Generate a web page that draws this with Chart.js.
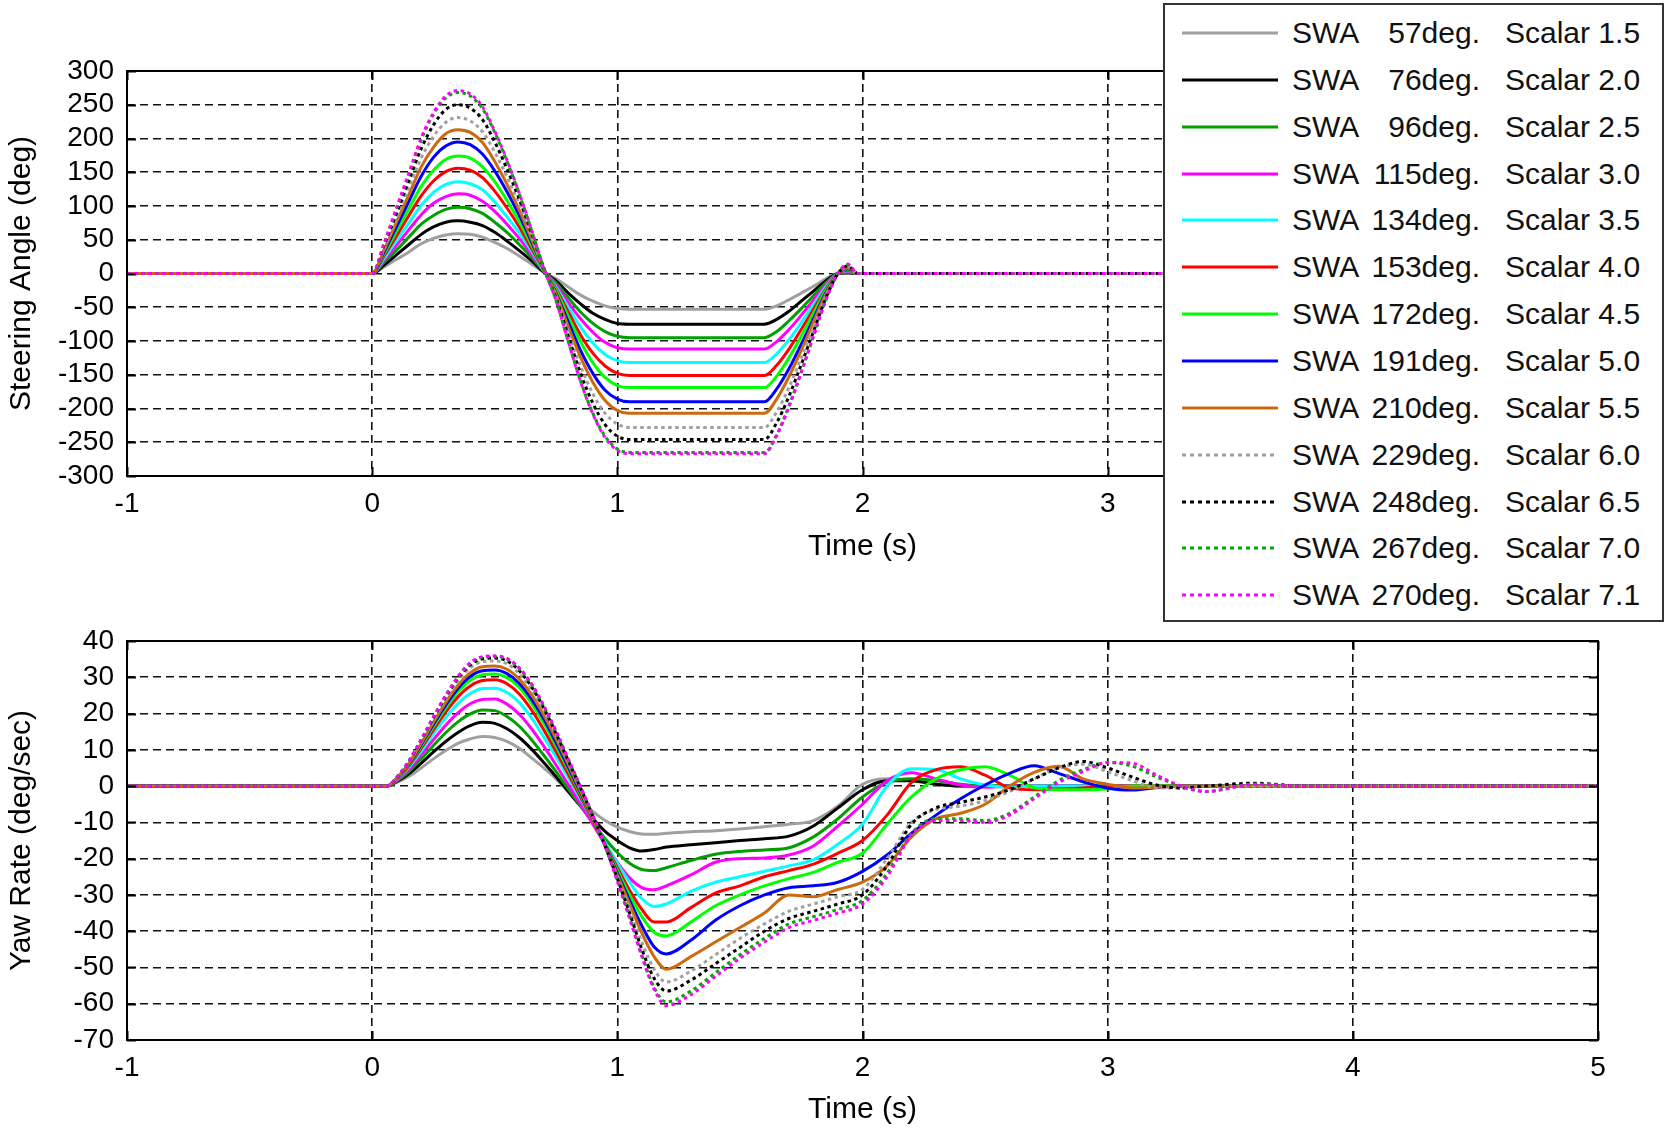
<!DOCTYPE html>
<html>
<head>
<meta charset="utf-8">
<title>Sine with dwell - steering angle and yaw rate</title>
<script src="https://cdn.jsdelivr.net/npm/chart.js@4.4.1/dist/chart.umd.min.js"></script>
<style>
  html, body { margin: 0; padding: 0; background: #fff; }
  body { width: 1666px; height: 1128px; position: relative; overflow: hidden; font-family: 'Liberation Sans', Arial, sans-serif; }
  canvas { position: absolute; left: 0; }
  #steerCanvas { top: 0; }
  #yawCanvas { top: 560px; }
  #legend { position: absolute; left: 1163px; top: 3px; width: 501px; height: 619px; box-sizing: border-box;
            border: 2px solid #333; background: #fff; z-index: 5; }
  .row { position: absolute; left: 0; width: 497px; height: 34px; font-size: 30px; line-height: 34px; color: #111; }
  .row svg { position: absolute; left: 17px; top: 14px; }
  .row .swa { position: absolute; left: 127px; }
  .row .deg { position: absolute; left: 190px; width: 125px; text-align: right; }
  .row .sc { position: absolute; left: 340px; }
</style>
</head>
<body>
<canvas id="steerCanvas" width="1666" height="565"></canvas>
<canvas id="yawCanvas" width="1666" height="568"></canvas>
<div id="legend"></div>
<script>
// legend text
var swaDeg = [57, 76, 96, 115, 134, 153, 172, 191, 210, 229, 248, 267, 270];
var scalarVals = ['1.5', '2.0', '2.5', '3.0', '3.5', '4.0', '4.5', '5.0', '5.5', '6.0', '6.5', '7.0', '7.1'];

// tick labels
var timeTicks = [-1, 0, 1, 2, 3, 4, 5];
var steerTicks = [-300, -250, -200, -150, -100, -50, 0, 50, 100, 150, 200, 250, 300];
var yawTicks = [-70, -60, -50, -40, -30, -20, -10, 0, 10, 20, 30, 40];

// steering wheel angle (deg) vs time (s)
var steerTime = [-1, 0, 0.05, 0.1, 0.15, 0.2, 0.25, 0.3, 0.35, 0.4, 0.45, 0.5, 0.55, 0.6, 0.65, 0.7,
  0.75, 0.8, 0.85, 0.9, 0.95, 1.0, 1.05, 1.6, 1.65, 1.7, 1.75, 1.8, 1.85, 1.9, 1.94, 1.98, 5];
var swa57  = [0, 0, 10, 21, 32, 44, 52, 57, 59, 58, 54, 46, 37, 26, 14, 2, -8, -20, -32, -41, -48, -52, -53, -53, -48, -39, -29, -19, -8, 0, 0, 0, 0];
var swa76  = [0, 0, 13, 28, 43, 58, 69, 76, 78, 76, 71, 61, 48, 34, 19, 2, -11, -29, -45, -59, -68, -74, -75, -75, -68, -56, -41, -26, -11, 0, 1, 0, 0];
var swa96  = [0, 0, 17, 35, 54, 73, 86, 95, 98, 96, 89, 76, 61, 43, 24, 3, -14, -36, -57, -74, -86, -93, -95, -95, -86, -70, -52, -33, -14, 0, 2, 0, 0];
var swa115 = [0, 0, 20, 42, 65, 87, 104, 114, 118, 116, 107, 92, 73, 52, 28, 4, -17, -43, -67, -87, -102, -110, -112, -112, -101, -83, -62, -39, -17, 0, 3, 0, 0];
var swa134 = [0, 0, 23, 49, 75, 101, 120, 132, 136, 133, 124, 106, 84, 60, 33, 4, -20, -50, -79, -103, -120, -129, -132, -132, -119, -98, -73, -46, -20, 0, 4, 0, 0];
var swa153 = [0, 0, 27, 56, 86, 115, 137, 151, 156, 153, 142, 122, 97, 69, 37, 5, -23, -57, -91, -118, -137, -148, -151, -151, -136, -112, -83, -53, -23, 0, 5, 0, 0];
var swa172 = [0, 0, 30, 63, 96, 129, 153, 169, 174, 171, 158, 136, 108, 77, 42, 5, -25, -64, -101, -132, -154, -166, -169, -169, -152, -125, -93, -59, -25, 0, 6, 0, 0];
var swa191 = [0, 0, 33, 70, 107, 144, 172, 189, 195, 191, 177, 152, 121, 86, 47, 6, -29, -72, -114, -148, -173, -186, -190, -190, -171, -141, -105, -67, -29, 0, 7, 0, 0];
var swa210 = [0, 0, 36, 77, 117, 158, 187, 207, 213, 209, 194, 166, 132, 94, 51, 6, -31, -79, -124, -161, -188, -203, -207, -207, -186, -153, -114, -72, -31, 0, 8, 0, 0];
var swa229 = [0, 0, 39, 83, 127, 171, 203, 224, 231, 226, 210, 180, 143, 102, 55, 7, -34, -87, -137, -178, -207, -223, -228, -228, -205, -169, -125, -80, -34, 0, 10, 0, 0];
var swa248 = [0, 0, 43, 90, 138, 185, 220, 243, 250, 245, 228, 195, 155, 110, 60, 8, -37, -93, -148, -192, -224, -241, -246, -246, -221, -182, -135, -86, -37, 0, 11, 0, 0];
var swa267 = [0, 0, 46, 96, 147, 198, 236, 260, 268, 263, 244, 209, 166, 118, 64, 8, -40, -101, -159, -207, -241, -260, -265, -265, -239, -196, -146, -93, -40, 0, 13, 0, 0];
var swa270 = [0, 0, 46, 98, 149, 201, 238, 263, 271, 266, 247, 211, 168, 119, 65, 8, -40, -101, -160, -208, -243, -262, -267, -267, -240, -198, -147, -93, -40, 0, 14, 0, 0];

// yaw rate (deg/sec) vs time (s)
var yawTime = [-1, 0, 0.06, 0.1, 0.15, 0.2, 0.25, 0.3, 0.35, 0.4, 0.45, 0.5, 0.55, 0.6, 0.65, 0.7,
  0.75, 0.8, 0.85, 0.9, 0.95, 1.0, 1.05, 1.1, 1.15, 1.2, 1.3, 1.4, 1.5, 1.6, 1.7, 1.8, 1.9, 2.0,
  2.1, 2.2, 2.3, 2.4, 2.5, 2.6, 2.7, 2.8, 2.9, 3.0, 3.1, 3.2, 3.3, 3.4, 3.6, 3.8, 4.0, 5];
var yaw57  = [0, 0, 0, 1, 2.7, 5, 7.5, 9.8, 11.8, 13, 13.7, 13.4, 12.3, 10.4, 7.8, 5, 2, -1.5, -4.5, -7, -9.5, -11.3, -12.5, -13.2, -13.3, -13,
  -12.6, -12.3, -11.8, -11.2, -10.5, -9.5, -5.5, 0.5, 2, 1.5, 0.5, 0, 0, 0, 0, 0, 0, 0, 0, 0, 0, 0, 0, 0, 0, 0];
var yaw76  = [0, 0, 0, 1.2, 3.4, 6.3, 9.4, 12.3, 14.8, 16.7, 17.6, 17.3, 15.8, 13.4, 10.2, 6.5, 2.6, -1.5, -5.5, -9, -12.5, -15, -17, -17.9, -17.5, -16.8,
  -16.2, -15.6, -15, -14.5, -13.8, -11, -6, -1, 1.5, 1.5, 0.5, 0, 0, 0, 0, 0, 0, 0, 0, 0, 0, 0, 0, 0, 0, 0];
var yaw96  = [0, 0, 0, 1.4, 4, 7.5, 11.2, 14.7, 17.7, 19.9, 21, 20.8, 19.2, 16.5, 12.8, 8.5, 4, -0.8, -5.5, -10, -14.5, -18.3, -21.3, -23, -23.3, -22.5,
  -20.5, -18.8, -18, -17.6, -17, -14, -9, -3, 1, 2, 1.5, 0.5, 0, 0, 0, 0, 0, 0, 0, 0, 0, 0, 0, 0, 0, 0];
var yaw115 = [0, 0, 0, 1.6, 4.6, 8.6, 12.8, 16.8, 20.2, 22.7, 23.9, 24, 22.6, 19.8, 15.8, 11, 5.8, 0.4, -5, -10.5, -16, -21, -25.3, -28, -28.6, -27.5,
  -24.5, -21, -20, -19.8, -19, -16.5, -11, -5, 1.5, 3.7, 2, 0.3, -0.3, 0, 0, 0, 0, 0, 0, 0, 0, 0, 0, 0, 0, 0];
var yaw134 = [0, 0, 0, 1.8, 5.2, 9.6, 14.4, 18.9, 22.7, 25.5, 26.9, 27, 25.8, 23, 18.8, 13.5, 8, 2.3, -3.6, -9.5, -15.5, -21.3, -26.5, -31, -33.2, -32.5,
  -29, -26.5, -25, -23.5, -22, -20.3, -16, -10.5, 0, 4.8, 4.6, 2, 0.3, -0.3, 0, 0, 0, 0, 0, 0, 0, 0, 0, 0, 0, 0];
var yaw153 = [0, 0, 0, 1.9, 5.6, 10.4, 15.5, 20.4, 24.6, 27.6, 29.1, 29.3, 28.2, 25.4, 21, 15.5, 9.5, 3.3, -3, -9.5, -16, -22.5, -28.7, -34, -37.5, -37.5,
  -33.5, -29.5, -27.5, -25, -23.3, -21.5, -18.5, -15, -8, 1, 4.5, 5.3, 3, -0.5, -1, -0.8, -0.5, 0, 0, 0, 0, 0, 0, 0, 0, 0];
var yaw172 = [0, 0, 0, 2, 5.9, 11, 16.4, 21.5, 26, 29.2, 30.7, 30.9, 29.9, 27.2, 22.8, 17.3, 11, 4.5, -2.3, -9.2, -16.2, -23.2, -30, -36, -40.3, -41.3,
  -37.5, -33, -30, -27.5, -25.5, -23.8, -21, -18.5, -10.5, -3, 2, 4.5, 5.3, 3, -0.5, -1, -1, -0.8, 0, 0, 0, 0, 0, 0, 0, 0];
var yaw191 = [0, 0, 0, 2.1, 6.1, 11.4, 17, 22.3, 26.9, 30.2, 31.8, 32, 31, 28.3, 24, 18.5, 12, 5.2, -1.8, -9, -16.3, -24, -31.5, -38.5, -44.3, -46.3,
  -42.5, -37, -33, -30, -28, -27.5, -26.5, -23.5, -19, -13, -8, -3.5, 0.3, 3.5, 5.6, 3.5, 1.2, -0.6, -1.1, -0.4, 0, 0, 0, 0, 0, 0];
var yaw210 = [0, 0, 0, 2.2, 6.3, 11.8, 17.6, 23.1, 27.8, 31.2, 32.9, 33.1, 32.2, 29.5, 25.2, 19.6, 13, 6, -1.3, -8.8, -16.5, -24.5, -32.5, -40.5, -47, -50.5,
  -47, -43, -39, -35, -30, -30.5, -28.5, -26.5, -22, -14, -9, -7.5, -5, 0, 3.8, 5.5, 2, 0.5, -0.5, -0.3, 0, 0, 0, 0, 0, 0];
var yaw229 = [0, 0, 0, 2.3, 6.6, 12.3, 18.3, 24, 29, 32.6, 34.3, 34.5, 33.7, 31, 26.6, 20.8, 14, 6.7, -0.8, -8.5, -16.5, -25, -34, -43, -50.5, -54,
  -51, -46.5, -42, -38, -34.5, -32.5, -30.5, -28.5, -20, -10, -6.5, -5.5, -4, -1.5, 2, 5, 6, 4, 1.5, -0.5, -0.5, 0, 0, 0, 0, 0];
var yaw248 = [0, 0, 0, 2.3, 6.8, 12.6, 18.8, 24.6, 29.7, 33.4, 35.1, 35.3, 34.5, 31.8, 27.4, 21.5, 14.5, 7, -0.5, -8.3, -16.5, -25.5, -35, -45, -53, -56.5,
  -53.5, -49, -44.5, -40, -36.5, -34.5, -32.5, -30, -22, -10.5, -6, -4.5, -3, -1, 2, 5, 6.8, 5, 2.5, 0.3, -0.5, 0, 0.8, 0, 0, 0];
var yaw267 = [0, 0, 0, 2.4, 6.9, 12.8, 19, 24.9, 30, 33.8, 35.5, 35.7, 35, 32.4, 28, 22, 15, 7.3, -0.3, -8.2, -16.5, -26, -36, -46.5, -55.5, -59.5,
  -56.5, -51.5, -46.5, -42, -38, -36, -34, -31.5, -24, -13, -9, -9, -9.5, -7.5, -3, 1.5, 4.5, 6.5, 5.5, 2.5, 0, -1.5, 0.5, 0, 0, 0];
var yaw270 = [0, 0, 0, 2.4, 7, 12.9, 19.1, 25, 30.2, 34, 35.7, 35.9, 35.2, 32.6, 28.2, 22.2, 15.2, 7.5, -0.1, -8, -16.5, -26.2, -36.5, -47, -56, -60.5,
  -57.5, -52.5, -47.5, -43, -39, -37, -35, -32.5, -25, -13.5, -9.5, -9.5, -10, -8, -3.5, 1, 4, 6.5, 6.3, 3, 0, -1.5, 0.5, 0, 0, 0];

var steerSeries = [swa57, swa76, swa96, swa115, swa134, swa153, swa172, swa191, swa210, swa229, swa248, swa267, swa270];
var yawSeries = [yaw57, yaw76, yaw96, yaw115, yaw134, yaw153, yaw172, yaw191, yaw210, yaw229, yaw248, yaw267, yaw270];

var lineColors = ['#a0a0a0', '#000000', '#00a000', '#ff00ff', '#00ffff', '#ff0000', '#00ff00',
  '#0000ff', '#cc6a10', '#a0a0a0', '#000000', '#00a800', '#ff00ff'];
var DOTTED_FROM = 9;

Chart.defaults.font.family = "'Liberation Sans', Arial, sans-serif";
Chart.defaults.color = '#000';

function buildDatasets(time, series) {
  return series.map(function(vals, i) {
    return {
      label: 'SWA ' + swaDeg[i] + 'deg.',
      data: time.map(function(t, k) { return { x: t, y: vals[k] }; }),
      borderColor: lineColors[i],
      borderWidth: 3,
      borderDash: i >= DOTTED_FROM ? [3.5, 3.5] : [],
      pointRadius: 0,
      cubicInterpolationMode: 'monotone',
      order: series.length - i
    };
  });
}

function fixedTicks(values) {
  return function(scale) {
    scale.ticks = values.map(function(v) { return { value: v }; });
  };
}

// solid box round the plot, plus short inward tick marks on every side
var frameBox = {
  id: 'frameBox',
  afterDatasetsDraw: function(chart) {
    var a = chart.chartArea;
    var ctx = chart.ctx;
    var xs = chart.scales.x, ys = chart.scales.y;
    var len = 9;
    ctx.save();
    ctx.strokeStyle = '#000';
    ctx.lineWidth = 2;
    ctx.setLineDash([]);
    ctx.beginPath();
    xs.ticks.forEach(function(t) {
      var px = Math.round(xs.getPixelForValue(t.value)) + 0.5;
      ctx.moveTo(px, a.bottom); ctx.lineTo(px, a.bottom - len);
      ctx.moveTo(px, a.top); ctx.lineTo(px, a.top + len);
    });
    ys.ticks.forEach(function(t) {
      var py = Math.round(ys.getPixelForValue(t.value)) + 0.5;
      ctx.moveTo(a.left, py); ctx.lineTo(a.left + len, py);
      ctx.moveTo(a.right, py); ctx.lineTo(a.right - len, py);
    });
    ctx.stroke();
    ctx.strokeRect(a.left, a.top, a.right - a.left, a.bottom - a.top);
    ctx.restore();
  }
};

function makeChart(canvasId, time, series, yOpts, layout) {
  return new Chart(document.getElementById(canvasId), {
    type: 'line',
    data: { datasets: buildDatasets(time, series) },
    options: {
      responsive: false,
      animation: false,
      devicePixelRatio: 1,
      layout: { padding: { left: 0, right: 68, top: layout.top, bottom: 0 } },
      plugins: { legend: { display: false }, tooltip: { enabled: false } },
      scales: {
        x: {
          type: 'linear',
          min: -1, max: 5,
          afterBuildTicks: fixedTicks(timeTicks),
          ticks: { autoSkip: false, padding: 11, font: { size: 28 }, color: '#000' },
          grid: { color: '#111', lineWidth: 1.6, drawTicks: false },
          border: { display: false, dash: [8, 5] },
          title: { display: true, text: 'Time (s)', font: { size: 30 }, color: '#000', padding: { top: 0, bottom: 0 } },
          afterFit: function(scale) { scale.height = layout.xHeight; }
        },
        y: {
          min: yOpts.min, max: yOpts.max,
          afterBuildTicks: fixedTicks(yOpts.ticks),
          ticks: { autoSkip: false, padding: 13, font: { size: 28 }, color: '#000' },
          grid: { color: '#111', lineWidth: 1.6, drawTicks: false },
          border: { display: false, dash: [8, 5] },
          title: { display: true, text: yOpts.title, font: { size: 30 }, color: '#000', padding: { top: 4, bottom: 0 } },
          afterFit: function(scale) { scale.width = 127; }
        }
      }
    },
    plugins: [frameBox]
  });
}

makeChart('steerCanvas', steerTime, steerSeries,
  { min: -300, max: 300, ticks: steerTicks, title: 'Steering Angle (deg)' },
  { top: 71, xHeight: 89 });

makeChart('yawCanvas', yawTime, yawSeries,
  { min: -70, max: 40, ticks: yawTicks, title: 'Yaw Rate (deg/sec)' },
  { top: 81, xHeight: 88 });

// legend box over the top right of the first plot
var legend = document.getElementById('legend');
swaDeg.forEach(function(deg, i) {
  var row = document.createElement('div');
  row.className = 'row';
  row.style.top = Math.round(28 + 46.85 * i - 17) + 'px';
  var dash = i >= DOTTED_FROM ? ' stroke-dasharray="4 4"' : '';
  row.innerHTML = '<svg width="96" height="6"><line x1="0" y1="3" x2="96" y2="3" stroke="' + lineColors[i] +
    '" stroke-width="3"' + dash + '/></svg>' +
    '<span class="swa">SWA</span>' +
    '<span class="deg">' + deg + 'deg.</span>' +
    '<span class="sc">Scalar ' + scalarVals[i] + '</span>';
  legend.appendChild(row);
});
</script>
</body>
</html>
